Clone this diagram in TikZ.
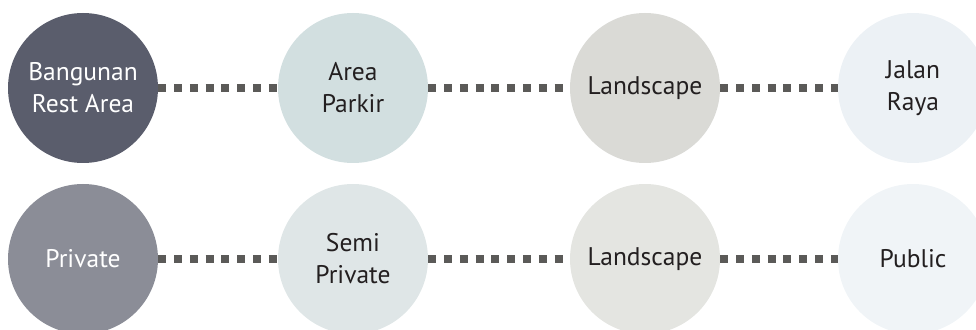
\documentclass[tikz,border=0pt]{standalone}
\usepackage{fontspec}
\setmainfont{PT Sans}
\usetikzlibrary{backgrounds}

\definecolor{darkzone}{HTML}{5A5D6C}
\definecolor{parkzone}{HTML}{D2DFE0}
\definecolor{landzone}{HTML}{DADAD6}
\definecolor{roadzone}{HTML}{ECF1F5}
\definecolor{privzone}{HTML}{8B8D97}
\definecolor{semizone}{HTML}{DFE6E7}
\definecolor{landzonelight}{HTML}{E4E5E1}
\definecolor{pubzone}{HTML}{F0F4F7}
\definecolor{dotgray}{HTML}{5B5A58}
\definecolor{inkdark}{HTML}{231F20}

\begin{document}
\begin{tikzpicture}[x=1pt,y=1pt,
    zone/.style={circle, minimum size=150pt, inner sep=0pt, align=center,
                 font=\fontsize{25.5}{32}\selectfont, text=inkdark},
    link/.style={dotgray, line width=8pt, dash pattern=on 8pt off 7.8pt}]
                % Frame
                \useasboundingbox (0,0) rectangle (976,329);

                % Top row: zones
                \node[zone, fill=darkzone, text=white] (bang) at (83,241) {Bangunan\\Rest Area};
                \node[zone, fill=parkzone] (park) at (353,241) {Area\\Parkir};
                \node[zone, fill=landzone] (land) at (645,241) {Landscape};
                \node[zone, fill=roadzone] (road) at (913,241) {Jalan\\Raya};

                % Bottom row: privacy levels
                \node[zone, fill=privzone, text=white] (priv) at (83,70) {Private};
                \node[zone, fill=semizone] (semi) at (353,70) {Semi\\Private};
                \node[zone, fill=landzonelight] (landb) at (645,70) {Landscape};
                \node[zone, fill=pubzone] (pub) at (913,70) {Public};

                % Dotted links behind the circles
                \begin{scope}[on background layer]
                \draw[link] (bang.east) -- (park.west);
                \draw[link] (park.east) -- (land.west);
                \draw[link] (land.east) -- (road.west);
                \draw[link] (priv.east) -- (semi.west);
                \draw[link] (semi.east) -- (landb.west);
                \draw[link] (landb.east) -- (pub.west);
                \end{scope}
\end{tikzpicture}
\end{document}
